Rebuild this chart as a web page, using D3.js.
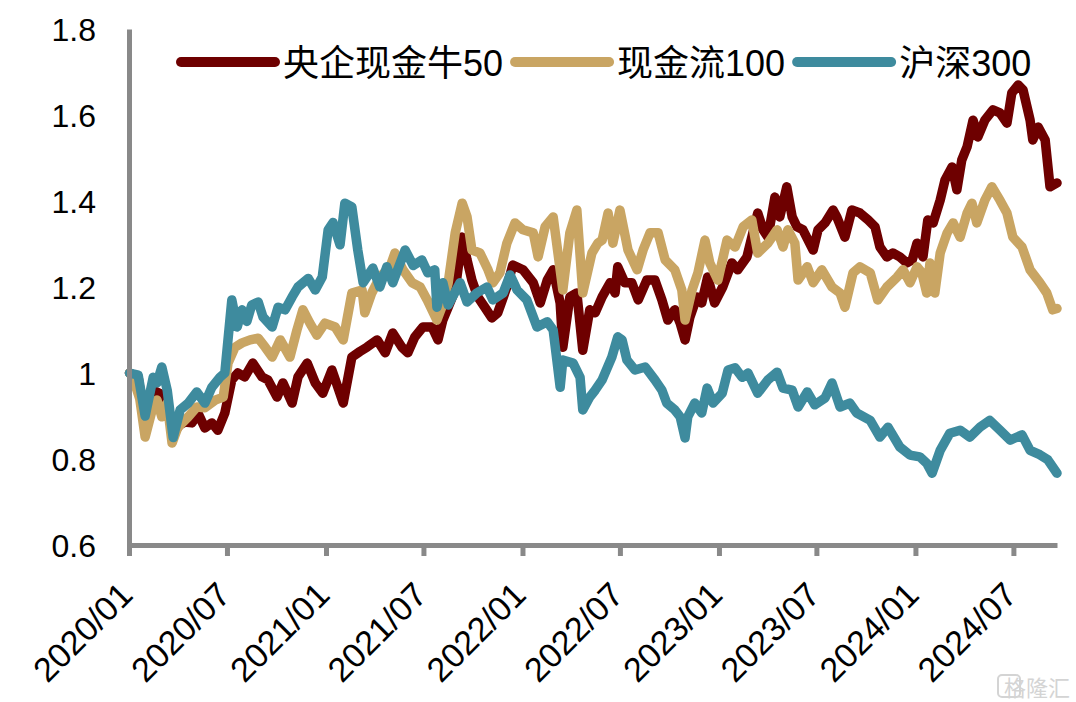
<!DOCTYPE html>
<html>
<head>
<meta charset="utf-8">
<script src="https://cdn.jsdelivr.net/npm/d3@7"></script>
<style>
 body { margin: 0; background: #fff; }
 svg text { font-family: "Liberation Sans", Arial, "Noto Sans CJK SC", sans-serif; fill: #000; }
</style>
</head>
<body>
<svg id="chart"></svg>
<script>
// 序列名称与颜色
const seriesNames = ["央企现金牛50", "现金流100", "沪深300"];
const seriesColors = ["#6e0000", "#c9a563", "#3e8b9e"];

// 央企现金牛50 净值
const csoe50 = [
 ["2020-01-02",1.0],["2020-01-18",0.99],["2020-01-31",0.88],["2020-02-15",0.96],["2020-03-02",0.95],
 ["2020-03-12",0.92],["2020-03-23",0.86],["2020-04-05",0.88],["2020-04-14",0.886],["2020-04-27",0.884],
 ["2020-05-08",0.907],["2020-05-21",0.872],["2020-06-03",0.884],["2020-06-14",0.867],["2020-06-27",0.907],
 ["2020-07-10",0.984],["2020-07-21",1.0],["2020-08-03",0.991],["2020-08-18",1.023],["2020-09-04",0.991],
 ["2020-09-15",0.984],["2020-10-02",0.944],["2020-10-13",0.977],["2020-10-30",0.93],["2020-11-10",0.991],
 ["2020-11-27",1.023],["2020-12-12",0.977],["2020-12-26",0.953],["2021-01-12",1.007],["2021-01-23",0.967],
 ["2021-02-02",0.93],["2021-02-18",1.037],["2021-03-05",1.05],["2021-03-18",1.06],["2021-04-06",1.077],
 ["2021-04-21",1.047],["2021-05-05",1.093],["2021-05-22",1.06],["2021-06-02",1.047],["2021-06-15",1.084],
 ["2021-06-30",1.107],["2021-07-17",1.107],["2021-07-28",1.077],["2021-08-06",1.123],["2021-08-16",1.153],
 ["2021-08-29",1.193],["2021-09-11",1.316],["2021-09-20",1.263],["2021-09-29",1.216],["2021-10-10",1.177],
 ["2021-10-23",1.153],["2021-11-05",1.128],["2021-11-16",1.14],["2021-12-03",1.2],["2021-12-14",1.251],
 ["2022-01-02",1.24],["2022-01-21",1.21],["2022-02-03",1.163],["2022-02-16",1.216],["2022-02-27",1.24],
 ["2022-03-12",1.163],["2022-03-17",1.06],["2022-03-30",1.177],["2022-04-12",1.186],["2022-04-23",1.053],
 ["2022-05-06",1.147],["2022-05-16",1.14],["2022-05-29",1.177],["2022-06-13",1.21],["2022-06-22",1.186],
 ["2022-06-27",1.247],["2022-07-10",1.21],["2022-07-23",1.21],["2022-08-04",1.17],["2022-08-20",1.216],
 ["2022-09-04",1.216],["2022-09-17",1.17],["2022-09-28",1.123],["2022-10-11",1.147],["2022-10-21",1.116],
 ["2022-10-30",1.077],["2022-11-08",1.13],["2022-11-21",1.177],["2022-11-30",1.163],["2022-12-11",1.223],
 ["2022-12-24",1.163],["2023-01-08",1.2],["2023-01-25",1.256],["2023-02-05",1.24],["2023-02-22",1.27],
 ["2023-03-05",1.326],["2023-03-14",1.372],["2023-03-24",1.333],["2023-04-02",1.316],["2023-04-15",1.409],
 ["2023-04-24",1.363],["2023-05-07",1.433],["2023-05-17",1.363],["2023-05-26",1.34],["2023-06-06",1.333],
 ["2023-06-25",1.286],["2023-07-04",1.333],["2023-07-17",1.349],["2023-08-01",1.379],["2023-08-08",1.363],
 ["2023-08-23",1.316],["2023-09-05",1.379],["2023-09-20",1.372],["2023-10-05",1.356],["2023-10-18",1.34],
 ["2023-10-27",1.293],["2023-11-09",1.27],["2023-11-20",1.279],["2023-12-03",1.27],["2023-12-16",1.256],
 ["2023-12-26",1.263],["2024-01-04",1.302],["2024-01-15",1.27],["2024-01-24",1.356],["2024-02-03",1.349],
 ["2024-02-16",1.402],["2024-02-25",1.449],["2024-03-09",1.479],["2024-03-18",1.426],["2024-03-27",1.495],
 ["2024-04-06",1.526],["2024-04-17",1.588],["2024-04-26",1.549],["2024-05-09",1.588],["2024-05-24",1.612],
 ["2024-06-06",1.605],["2024-06-19",1.581],["2024-06-28",1.651],["2024-07-10",1.67],["2024-07-19",1.658],
 ["2024-08-01",1.588],["2024-08-06",1.542],["2024-08-16",1.572],["2024-08-29",1.542],["2024-09-07",1.433],
 ["2024-09-20",1.442]
];

// 现金流100 净值
const cash100 = [
 ["2020-01-02",1.0],["2020-01-08",0.99],["2020-01-21",0.94],["2020-01-31",0.851],["2020-02-13",0.914],
 ["2020-02-22",0.937],["2020-03-02",0.898],["2020-03-12",0.93],["2020-03-21",0.837],["2020-04-01",0.874],
 ["2020-04-20",0.898],["2020-05-06",0.921],["2020-05-21",0.919],["2020-06-09",0.937],["2020-06-24",0.944],
 ["2020-07-03",1.023],["2020-07-16",1.06],["2020-07-29",1.07],["2020-08-13",1.077],["2020-08-28",1.081],
 ["2020-09-10",1.06],["2020-09-23",1.037],["2020-10-08",1.077],["2020-10-26",1.037],["2020-11-08",1.1],
 ["2020-11-19",1.147],["2020-12-02",1.116],["2020-12-15",1.088],["2020-12-30",1.116],["2021-01-18",1.107],
 ["2021-02-02",1.077],["2021-02-18",1.186],["2021-03-09",1.193],["2021-03-14",1.14],["2021-03-27",1.186],
 ["2021-04-11",1.223],["2021-04-30",1.247],["2021-05-09",1.279],["2021-05-24",1.24],["2021-06-10",1.21],
 ["2021-06-25",1.2],["2021-07-08",1.17],["2021-07-26",1.123],["2021-08-04",1.153],["2021-08-16",1.21],
 ["2021-08-29",1.326],["2021-09-11",1.395],["2021-09-20",1.363],["2021-09-29",1.286],["2021-10-14",1.279],
 ["2021-10-29",1.24],["2021-11-07",1.21],["2021-11-20",1.233],["2021-12-03",1.302],["2021-12-18",1.349],
 ["2022-01-02",1.333],["2022-01-21",1.326],["2022-01-30",1.27],["2022-02-12",1.34],["2022-02-27",1.363],
 ["2022-03-17",1.193],["2022-03-30",1.326],["2022-04-12",1.379],["2022-04-23",1.186],["2022-05-10",1.279],
 ["2022-05-21",1.302],["2022-05-29",1.309],["2022-06-09",1.372],["2022-06-18",1.302],["2022-07-01",1.379],
 ["2022-07-16",1.286],["2022-08-02",1.24],["2022-08-13",1.286],["2022-08-26",1.326],["2022-09-10",1.326],
 ["2022-09-23",1.263],["2022-10-11",1.24],["2022-10-24",1.193],["2022-10-30",1.123],["2022-11-12",1.193],
 ["2022-11-23",1.233],["2022-12-06",1.309],["2022-12-15",1.256],["2022-12-30",1.216],["2023-01-16",1.309],
 ["2023-01-31",1.293],["2023-02-15",1.34],["2023-03-03",1.356],["2023-03-14",1.279],["2023-04-02",1.302],
 ["2023-04-19",1.333],["2023-04-30",1.293],["2023-05-09",1.333],["2023-05-22",1.302],["2023-05-28",1.216],
 ["2023-06-14",1.247],["2023-06-25",1.21],["2023-07-11",1.24],["2023-07-30",1.2],["2023-08-14",1.186],
 ["2023-08-23",1.153],["2023-09-07",1.233],["2023-09-20",1.247],["2023-10-09",1.233],["2023-10-23",1.17],
 ["2023-11-09",1.2],["2023-11-28",1.223],["2023-12-09",1.24],["2023-12-22",1.21],["2024-01-04",1.247],
 ["2024-01-13",1.233],["2024-01-22",1.186],["2024-01-28",1.256],["2024-02-06",1.186],["2024-02-16",1.279],
 ["2024-02-29",1.326],["2024-03-11",1.349],["2024-03-24",1.316],["2024-04-06",1.372],["2024-04-15",1.395],
 ["2024-04-24",1.349],["2024-05-09",1.402],["2024-05-22",1.433],["2024-06-06",1.402],["2024-06-19",1.372],
 ["2024-06-30",1.316],["2024-07-17",1.293],["2024-08-01",1.24],["2024-08-19",1.21],["2024-09-01",1.186],
 ["2024-09-12",1.147],["2024-09-20",1.15]
];

// 沪深300 净值
const hs300 = [
 ["2020-01-02",1.0],["2020-01-18",0.995],["2020-01-31",0.9],["2020-02-15",0.99],["2020-02-22",0.977],
 ["2020-03-02",1.014],["2020-03-12",0.96],["2020-03-23",0.85],["2020-04-05",0.914],["2020-04-20",0.93],
 ["2020-05-06",0.956],["2020-05-21",0.93],["2020-06-03",0.967],["2020-06-18",0.99],["2020-06-27",1.0],
 ["2020-07-10",1.17],["2020-07-20",1.107],["2020-07-29",1.147],["2020-08-07",1.12],["2020-08-16",1.158],
 ["2020-08-28",1.165],["2020-09-06",1.13],["2020-09-23",1.107],["2020-10-04",1.153],["2020-10-17",1.147],
 ["2020-10-30",1.177],["2020-11-10",1.2],["2020-11-29",1.22],["2020-12-12",1.193],["2020-12-25",1.223],
 ["2021-01-05",1.333],["2021-01-14",1.35],["2021-01-27",1.298],["2021-02-05",1.395],["2021-02-18",1.386],
 ["2021-03-01",1.286],["2021-03-11",1.21],["2021-03-29",1.244],["2021-04-11",1.2],["2021-04-24",1.247],
 ["2021-05-05",1.21],["2021-05-28",1.286],["2021-06-12",1.25],["2021-06-28",1.263],["2021-07-09",1.233],
 ["2021-07-22",1.24],["2021-07-26",1.153],["2021-08-06",1.21],["2021-08-16",1.158],["2021-09-07",1.21],
 ["2021-09-20",1.165],["2021-10-08",1.186],["2021-10-27",1.2],["2021-11-07",1.17],["2021-11-26",1.186],
 ["2021-12-09",1.228],["2021-12-22",1.193],["2022-01-09",1.17],["2022-01-28",1.107],["2022-02-16",1.119],
 ["2022-02-27",1.1],["2022-03-12",0.967],["2022-03-17",1.03],["2022-04-05",1.023],["2022-04-18",0.99],
 ["2022-04-23",0.914],["2022-05-06",0.944],["2022-05-16",0.96],["2022-05-29",0.984],["2022-06-16",1.037],
 ["2022-06-27",1.084],["2022-07-05",1.077],["2022-07-14",1.03],["2022-07-29",1.007],["2022-08-17",1.014],
 ["2022-09-04",0.984],["2022-09-17",0.96],["2022-09-26",0.93],["2022-10-11",0.914],["2022-10-21",0.898],
 ["2022-10-30",0.849],["2022-11-04",0.898],["2022-11-17",0.93],["2022-11-30",0.907],["2022-12-10",0.965],
 ["2022-12-21",0.93],["2023-01-07",0.953],["2023-01-18",1.007],["2023-01-31",1.012],["2023-02-13",0.99],
 ["2023-02-24",1.0],["2023-03-14",0.953],["2023-04-02",0.984],["2023-04-19",1.002],["2023-04-30",0.965],
 ["2023-05-17",0.96],["2023-05-28",0.921],["2023-06-14",0.956],["2023-06-28",0.926],["2023-07-17",0.942],
 ["2023-07-30",0.977],["2023-08-14",0.921],["2023-09-01",0.93],["2023-09-14",0.907],["2023-10-09",0.89],
 ["2023-10-27",0.851],["2023-11-11",0.874],["2023-12-03",0.828],["2023-12-22",0.809],["2024-01-09",0.805],
 ["2024-01-22",0.79],["2024-02-01",0.767],["2024-02-16",0.82],["2024-03-05",0.86],["2024-03-24",0.867],
 ["2024-04-11",0.851],["2024-04-30",0.874],["2024-05-18",0.89],["2024-06-06",0.867],["2024-06-25",0.844],
 ["2024-07-17",0.856],["2024-08-01",0.82],["2024-08-19",0.81],["2024-09-03",0.798],["2024-09-20",0.767]
];

// 坐标轴刻度
const xTickDates = ["2020-01-01","2020-07-01","2021-01-01","2021-07-01","2022-01-01","2022-07-01",
 "2023-01-01","2023-07-01","2024-01-01","2024-07-01"];
const xTickLabels = ["2020/01","2020/07","2021/01","2021/07","2022/01","2022/07",
 "2023/01","2023/07","2024/01","2024/07"];
const yTickValues = [0.6, 0.8, 1, 1.2, 1.4, 1.6, 1.8];
const yTickLabels = ["0.6", "0.8", "1", "1.2", "1.4", "1.6", "1.8"];

const width = 1076, height = 702;
const plotLeft = 129, plotRight = 1057, plotTop = 29, plotBottom = 545;
const axisColor = "#898989";
const parse = d3.timeParse("%Y-%m-%d");

const svg = d3.select("#chart").attr("width", width).attr("height", height);

const x = d3.scaleTime()
 .domain([parse("2020-01-01"), parse("2024-09-20")])
 .range([plotLeft, plotRight]);
const y = d3.scaleLinear().domain([0.6, 1.8]).range([plotBottom, plotTop]);

// 折线
const line = d3.line().x(d => x(parse(d[0]))).y(d => y(d[1]));
[csoe50, cash100, hs300].forEach(function(s, i) {
 svg.append("path")
 .datum(s)
 .attr("d", line)
 .attr("fill", "none")
 .attr("stroke", seriesColors[i])
 .attr("stroke-width", 9.5)
 .attr("stroke-linejoin", "round")
 .attr("stroke-linecap", "round");
});

// 纵轴
const gy = svg.append("g")
 .attr("transform", `translate(${plotLeft},0)`)
 .call(d3.axisLeft(y).tickValues(yTickValues).tickSize(0).tickSizeOuter(0)
 .tickPadding(33).tickFormat((d, i) => yTickLabels[i]));
gy.select(".domain").attr("stroke", axisColor).attr("stroke-width", 5);
gy.selectAll("text").style("font-size", "32px").attr("dy", "0.36em");

// 横轴
const gx = svg.append("g")
 .attr("transform", `translate(0,${plotBottom})`)
 .call(d3.axisBottom(x).tickValues(xTickDates.map(parse)).tickSize(11).tickSizeOuter(0)
 .tickFormat((d, i) => xTickLabels[i]));
gx.select(".domain").attr("stroke", axisColor).attr("stroke-width", 5);
gx.selectAll(".tick line").attr("stroke", axisColor).attr("stroke-width", 5);
gx.selectAll("text")
 .style("font-size", "34px")
 .style("text-anchor", "end")
 .attr("x", null).attr("y", null).attr("dy", null)
 .attr("transform", "translate(5,52) rotate(-45)");

// 图例
const legend = svg.append("g");
let lx = 181;
seriesNames.forEach(function(name, i) {
 legend.append("line")
 .attr("x1", lx).attr("x2", lx + 94)
 .attr("y1", 62).attr("y2", 62)
 .attr("stroke", seriesColors[i])
 .attr("stroke-width", 10)
 .attr("stroke-linecap", "round");
 const t = legend.append("text")
 .attr("x", lx + 102).attr("y", 76)
 .style("font-size", "36px")
 .text(name);
 lx += 102 + t.node().getComputedTextLength() + 12;
});

// 水印
svg.append("text")
 .attr("x", 1070).attr("y", 696)
 .attr("text-anchor", "end")
 .style("font-size", "22px")
 .style("fill", "#d4d4d4")
 .text("格隆汇");
svg.append("rect")
 .attr("x", 998).attr("y", 675).attr("width", 22).attr("height", 22).attr("rx", 4)
 .attr("fill", "none").attr("stroke", "#d4d4d4").attr("stroke-width", 2);
</script>
</body>
</html>
